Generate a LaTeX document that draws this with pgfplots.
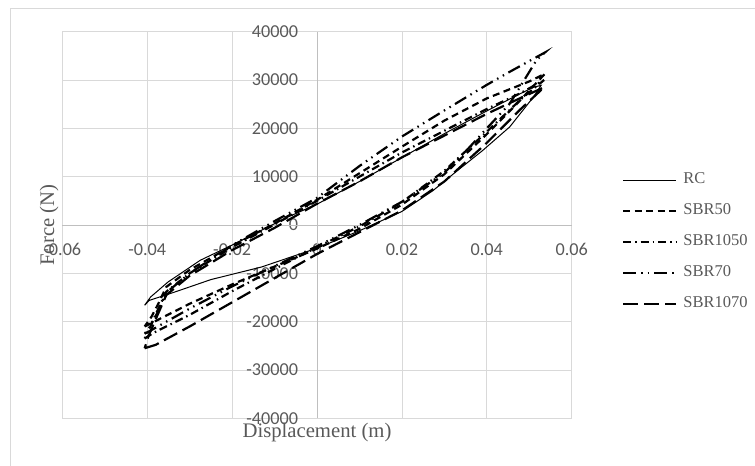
\documentclass[border=0pt]{standalone}
\usepackage{pgfplots}
\pgfplotsset{compat=1.18}
\usepackage{fontspec}
\setmainfont{Liberation Serif}
\newfontfamily\carlito{Carlito}
\definecolor{textgray}{HTML}{595959}
\definecolor{gridgray}{HTML}{D9D9D9}
\definecolor{axisgray}{HTML}{BFBFBF}
\begin{document}
\begin{tikzpicture}[x=1bp,y=1bp]
\useasboundingbox (0,0) rectangle (755,466);
\draw[color=gridgray, line width=1bp] (10,0) -- (10,457) -- (755,457);
\begin{axis}[
  at={(62.3bp,47.7bp)}, anchor=south west,
  scale only axis, width=509.4bp, height=386.6bp,
  xmin=-0.06, xmax=0.06, ymin=-40000, ymax=40000,
  scaled ticks=false,
  xtick={-0.06,-0.04,-0.02,0,0.02,0.04,0.06},
  xticklabels={-0.06,-0.04,-0.02,0,0.02,0.04,0.06},
  ytick={-40000,-30000,-20000,-10000,0,10000,20000,30000,40000},
  yticklabels={-40000,-30000,-20000,-10000,0,10000,20000,30000,40000},
  major tick length=0pt,
  grid=major, grid style={gridgray, line width=0.75bp},
  axis line style={draw=gridgray, line width=0.75bp},
  extra x ticks={0}, extra y ticks={0},
  extra x tick labels={}, extra y tick labels={},
  extra tick style={grid style={axisgray, line width=0.9bp}},
  tick label style={font=\carlito\fontsize{18.2bp}{20bp}\selectfont, text=textgray},
  xticklabel style={anchor=center, inner sep=0pt, yshift=169bp},
  yticklabel style={anchor=east, inner sep=0pt, xshift=236bp},
  xlabel={Displacement (m)}, ylabel={Force (N)},
  label style={font=\fontsize{20.7bp}{22bp}\selectfont, text=textgray},
  xlabel style={at={(axis description cs:0.5,-0.038)}, anchor=center},
  ylabel style={at={(axis description cs:-0.026,0.5)}, anchor=center},
  legend image code/.code={\draw[#1] (0bp,0bp) -- (52.6bp,0bp);},
  legend cell align=left,
  legend style={at={(axis description cs:1.0982,0.636)}, anchor=north west,
    draw=none, fill=none, inner sep=0pt, row sep=16bp,
    font=\fontsize{16.5bp}{18bp}\selectfont, text=textgray,
    nodes={inner sep=0pt, text height=11bp, text depth=4bp},
    /tikz/every odd column/.style={column sep=6.7bp}},
]
% RC
\addplot[black, line width=1bp] coordinates {
(-0.0406,-16600) (-0.0395,-15600) (-0.0336,-13900) (-0.025,-11300) (-0.0131,-8700) (0,-4800) (0.01,-1200) (0.02,2800) (0.0273,7100) (0.033,11200) (0.039,15400) (0.0454,20300) (0.051,26500) (0.0528,28900)
(0.051,28500) (0.047,26800) (0.04,23600) (0.03,18900) (0.0195,13700) (0.01,9000) (0,4300) (-0.007,1600) (-0.0194,-3900) (-0.0275,-7300) (-0.0351,-11800) (-0.0392,-14900) (-0.0406,-16600)};
\addlegendentry{RC}
% SBR50
\addplot[black, line width=2.2bp, dash pattern=on 7bp off 4.5bp] coordinates {
(-0.0406,-21000) (-0.039,-20300) (-0.03,-16300) (-0.02,-12300) (-0.01,-8600) (0,-4900) (0.01,-800) (0.02,4200) (0.03,10500) (0.04,18800) (0.047,25000) (0.0537,31300)
(0.05,29700) (0.04,26200) (0.03,21600) (0.02,16200) (0.01,10700) (0,5200) (-0.01,300) (-0.02,-4300) (-0.03,-9300) (-0.0355,-12800) (-0.0375,-16500) (-0.039,-19000) (-0.0406,-21000)};
\addlegendentry{SBR50}
% SBR1050
\addplot[black, line width=2.2bp, dash pattern=on 8bp off 4bp on 1.5bp off 4bp] coordinates {
(-0.0406,-23500) (-0.0385,-22300) (-0.03,-18600) (-0.02,-13700) (-0.01,-9100) (0,-4600) (0.01,-300) (0.02,4700) (0.03,11200) (0.04,19300) (0.048,26000) (0.0535,30000)
(0.048,27300) (0.04,24000) (0.03,19500) (0.02,15000) (0.01,10000) (0,5000) (-0.01,100) (-0.02,-4600) (-0.03,-10000) (-0.0355,-13800) (-0.038,-18500) (-0.0395,-21500) (-0.0406,-23500)};
\addlegendentry{SBR1050}
% SBR70
\addplot[black, line width=2.2bp, dash pattern=on 13bp off 5bp on 1.5bp off 5bp on 1.5bp off 5bp] coordinates {
(-0.0406,-22500) (-0.0385,-21500) (-0.03,-17300) (-0.02,-12700) (-0.01,-8500) (0,-4400) (0.01,0) (0.02,4800) (0.03,10800) (0.0352,15400) (0.04,20000) (0.0454,25100) (0.0517,34100) (0.0537,35700)
(0.0454,31700) (0.04,29000) (0.03,23700) (0.02,18300) (0.01,12200) (0,5600) (-0.01,800) (-0.02,-4200) (-0.03,-10000) (-0.0355,-14000) (-0.0378,-18500) (-0.0395,-21200) (-0.0406,-22500)};
\addlegendentry{SBR70}
% SBR1070
\addplot[black, line width=2.2bp, dash pattern=on 15bp off 6bp] coordinates {
(-0.0406,-25500) (-0.038,-24800) (-0.03,-21000) (-0.02,-16000) (-0.01,-11000) (0,-6000) (0.01,-1500) (0.02,3000) (0.03,9000) (0.04,17000) (0.048,24000) (0.0535,28500)
(0.048,26300) (0.04,23000) (0.03,18500) (0.02,14000) (0.01,9000) (0,4400) (-0.01,-600) (-0.02,-5200) (-0.03,-10500) (-0.0355,-14500) (-0.038,-19500) (-0.0397,-23000) (-0.0406,-25500)};
\addlegendentry{SBR1070}
\end{axis}
\end{tikzpicture}
\end{document}
